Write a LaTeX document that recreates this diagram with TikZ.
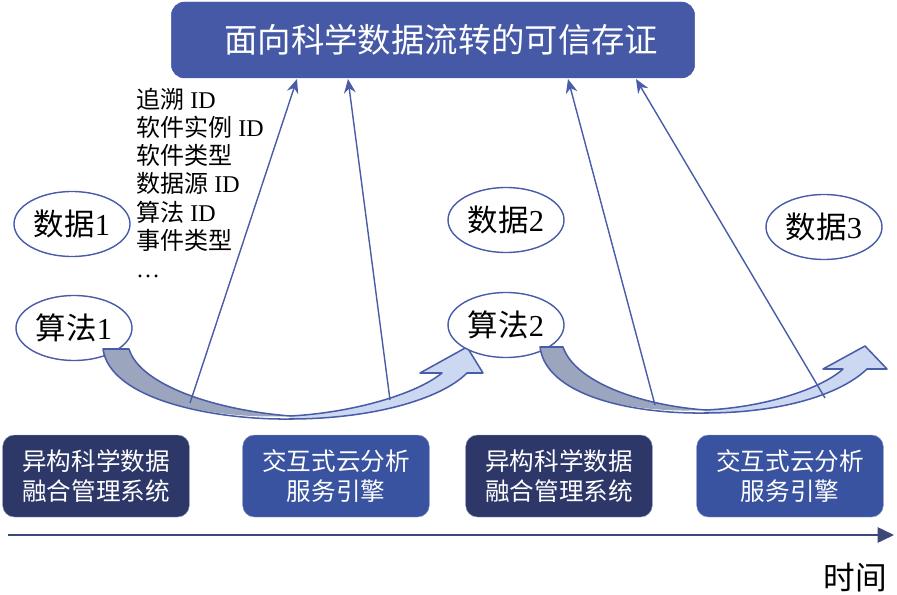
\documentclass[tikz,border=0pt]{standalone}
\usepackage{fontspec}
\setmainfont{Liberation Serif}
\newfontfamily\cjk{Noto Sans CJK SC}
\usetikzlibrary{arrows.meta}
\usetikzlibrary{shapes.geometric}
\newcommand{\zh}[1]{{\cjk #1}}
\definecolor{titleBlue}{RGB}{70,89,166}
\definecolor{sysBlue}{RGB}{45,56,105}
\definecolor{engBlue}{RGB}{58,83,160}
\definecolor{edgeBlue}{RGB}{72,92,168}
\definecolor{tailGray}{RGB}{155,165,190}
\definecolor{headBlue}{RGB}{204,216,242}
\definecolor{axisBlue}{RGB}{60,72,120}

\begin{document}
\begin{tikzpicture}[%
  x=0.03cm, y=-0.03cm,%
  titleBox/.style={draw=edgeBlue, fill=titleBlue, rounded corners=0.4cm,
    text=white, font=\fontsize{28.5}{32}\selectfont,
    minimum width=15.7cm, minimum height=2.28cm},%
  dataNode/.style={ellipse, draw=edgeBlue, line width=1.2pt, fill=white,
    inner sep=0pt, font=\fontsize{26}{30}\selectfont,
    minimum width=3.48cm, minimum height=1.95cm},%
  sysBox/.style={rounded corners=0.35cm, fill=sysBlue, draw=edgeBlue!60,
    text=white, align=center, font=\fontsize{21}{25.5}\selectfont,
    minimum width=5.6cm, minimum height=2.46cm},%
  engBox/.style={sysBox, fill=engBlue},%
  proofArrow/.style={draw=edgeBlue, line width=1.2pt,
    -{Stealth[length=12pt,width=10pt]}},%
  flowArrow/.style={draw=edgeBlue, line width=1.3pt, line join=round}%
]
%%
\useasboundingbox (0,0) rectangle (897,595);
\pgfmathsetmacro{\titleBottom}{79}
%%
%% Title.
\node[titleBox] (title) at (433,40) {\hspace*{0.5cm}\zh{面向科学数据流转的可信存证}};
%%
%% Recorded fields.
\node[anchor=north west, inner sep=0pt, align=left,
  font=\fontsize{20.5}{24}\selectfont] (fields) at (136,88)
  {\zh{追溯} ID\\ \zh{软件实例} ID\\ \zh{软件类型}\\ \zh{数据源} ID\\
   \zh{算法} ID\\ \zh{事件类型}\\ \dots};
%%
%% Data and algorithms.
\node[dataNode] (data1) at (72,224) {\zh{数据}1};
\node[dataNode] (data2) at (506,220) {\zh{数据}2};
\node[dataNode] (data3) at (824,227) {\zh{数据}3};
\node[dataNode] (algo1) at (74,328) {\zh{算法}1};
%%
%% First flow arrow.
\fill[tailGray] (103,349) -- (129,349) .. controls (140,385) and (215,410) .. (290,416)
  .. controls (215,420) and (110,400) .. (103,349) -- cycle;
\fill[headBlue] (290,416) .. controls (350,413) and (415,395) .. (442,373)
  -- (420,373) -- (467,347) -- (483,373) -- (467,373)
  .. controls (440,400) and (370,419) .. (290,419) -- cycle;
\draw[flowArrow] (103,349) -- (129,349) .. controls (140,385) and (215,410) .. (290,416)
  .. controls (350,413) and (415,395) .. (442,373)
  -- (420,373) -- (467,347) -- (483,373) -- (467,373)
  .. controls (440,400) and (370,419) .. (290,419)
  .. controls (215,420) and (110,400) .. (103,349) -- cycle;
%%
\node[dataNode] (algo2) at (506,325) {\zh{算法}2};
%%
%% Second flow arrow.
\fill[tailGray] (540,347) -- (563,347) .. controls (575,382) and (640,405) .. (705,410)
  .. controls (630,414) and (546,395) .. (540,347) -- cycle;
\fill[headBlue] (705,410) .. controls (760,408) and (820,390) .. (843,369)
  -- (823,369) -- (865,346) -- (887,369) -- (867,369)
  .. controls (840,395) and (780,413) .. (705,413) -- cycle;
\draw[flowArrow] (540,347) -- (563,347) .. controls (575,382) and (640,405) .. (705,410)
  .. controls (760,408) and (820,390) .. (843,369)
  -- (823,369) -- (865,346) -- (887,369) -- (867,369)
  .. controls (840,395) and (780,413) .. (705,413)
  .. controls (630,414) and (546,395) .. (540,347) -- cycle;
%%
%% Evidence sent up to the title.
\foreach \fx/\fy/\tx [count=\i] in {190/403/297, 390/400/348, 655/405/568, 825/398/636}{
  \coordinate (foot\i) at (\fx,\fy);
  \coordinate (tip\i) at (\tx,\titleBottom);
  \draw[proofArrow] (foot\i) -- (tip\i);
}
%%
%% Systems.
\node[sysBox] (sys1) at (96,476) {\zh{异构科学数据}\\ \zh{融合管理系统}};
\node[engBox] (eng1) at (336,476) {\zh{交互式云分析}\\ \zh{服务引擎}};
\node[sysBox] (sys2) at (559,476) {\zh{异构科学数据}\\ \zh{融合管理系统}};
\node[engBox] (eng2) at (790,476) {\zh{交互式云分析}\\ \zh{服务引擎}};
%%
%% Time axis.
\coordinate (tStart) at (8,535);
\coordinate (tEnd) at (894,535);
\draw[axisBlue, line width=1.8pt, -{Triangle[length=14pt,width=13pt]}] (tStart) -- (tEnd);
\node[font=\fontsize{27}{30}\selectfont] (timeLabel) at (855,578) {\zh{时间}};
\end{tikzpicture}
\end{document}
